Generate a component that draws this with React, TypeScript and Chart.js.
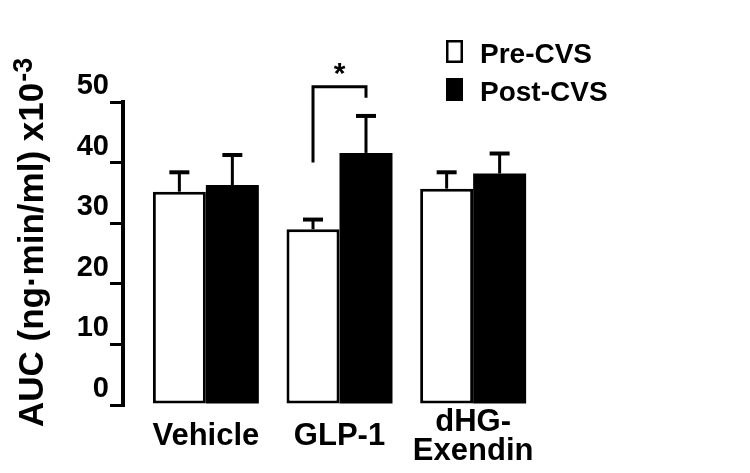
import React, { useEffect, useRef } from 'react';
import { Chart, registerables } from 'chart.js';

Chart.register(...registerables);

// ---- data ----
const groups = ['Vehicle', 'GLP-1', 'dHG-Exendin'];
const groupTickLabels: (string | string[])[] = ['Vehicle', 'GLP-1', ['dHG-', 'Exendin']];
const seriesNames = ['Pre-CVS', 'Post-CVS'];
const preValues = [35.2, 29.0, 35.7];
const postValues = [36.3, 41.6, 38.2];
const preErrors = [3.2, 1.6, 2.7];
const postErrors = [4.95, 6.1, 3.3];
const yMin = 0;
const yMax = 50;
const yStep = 10;
const yTitleMain = 'AUC (ng\u00b7min/ml) x10';
const yTitleSup = '-3';
const sigGroup = 1;
const sigLabel = '*';
const sigTop = 52.5;
const sigLeftEnd = 40;
const sigRightEnd = 50.7;

const FONT = '"Liberation Sans", Arial, Helvetica, sans-serif';

const errorBarPlugin = {
  id: 'errorBars',
  afterDatasetsDraw(chart: any) {
    const ctx = chart.ctx;
    const y = chart.scales.y;
    const vals = [preValues, postValues];
    const errs = [preErrors, postErrors];
    ctx.save();
    ctx.strokeStyle = '#000';
    ctx.lineCap = 'butt';
    chart.data.datasets.forEach((_: any, d: number) => {
      const meta = chart.getDatasetMeta(d);
      meta.data.forEach((bar: any, i: number) => {
        const top = y.getPixelForValue(vals[d][i] + errs[d][i]);
        ctx.lineWidth = 3;
        ctx.beginPath();
        ctx.moveTo(bar.x, bar.y);
        ctx.lineTo(bar.x, top);
        ctx.stroke();
        ctx.lineWidth = 4;
        ctx.beginPath();
        ctx.moveTo(bar.x - 10, top);
        ctx.lineTo(bar.x + 10, top);
        ctx.stroke();
      });
    });
    // significance bracket
    const a = chart.getDatasetMeta(0).data[sigGroup];
    const b = chart.getDatasetMeta(1).data[sigGroup];
    const yt = y.getPixelForValue(sigTop);
    ctx.lineWidth = 3;
    ctx.beginPath();
    ctx.moveTo(a.x, y.getPixelForValue(sigLeftEnd));
    ctx.lineTo(a.x, yt);
    ctx.lineTo(b.x, yt);
    ctx.lineTo(b.x, y.getPixelForValue(sigRightEnd));
    ctx.stroke();
    ctx.fillStyle = '#000';
    ctx.font = `bold 30px ${FONT}`;
    ctx.textAlign = 'center';
    ctx.textBaseline = 'alphabetic';
    ctx.fillText(sigLabel, (a.x + b.x) / 2, yt - 4);
    ctx.restore();
  },
  afterDraw(chart: any) {
    const ctx = chart.ctx;
    ctx.save();
    // y title
    ctx.translate(43, 427);
    ctx.rotate(-Math.PI / 2);
    ctx.fillStyle = '#000';
    ctx.font = `bold 35px ${FONT}`;
    ctx.textAlign = 'left';
    ctx.textBaseline = 'alphabetic';
    ctx.fillText(yTitleMain, 0, 0);
    const w = ctx.measureText(yTitleMain).width;
    ctx.font = `bold 27px ${FONT}`;
    ctx.fillText(yTitleSup, w + 1, -11);
    ctx.restore();

    // legend
    ctx.save();
    const items = chart.data.datasets;
    items.forEach((ds: any, i: number) => {
      const bx = 446;
      const by = 40 + i * 38;
      ctx.fillStyle = ds.backgroundColor;
      ctx.fillRect(bx, by, 17, 23);
      ctx.strokeStyle = '#000';
      ctx.lineWidth = 2.5;
      ctx.strokeRect(bx + 1.25, by + 1.25, 14.5, 20.5);
      ctx.fillStyle = '#000';
      ctx.font = `bold 28px ${FONT}`;
      ctx.textAlign = 'left';
      ctx.textBaseline = 'alphabetic';
      ctx.fillText(ds.label, 480, by + 23);
    });
    ctx.restore();
  },
};

export default function App() {
  const ref = useRef<HTMLCanvasElement | null>(null);
  useEffect(() => {
    if (!ref.current) return;
    const chart = new Chart(ref.current, {
      type: 'bar',
      data: {
        datasets: [
          {
            label: seriesNames[0],
            data: preValues.map((v, i) => ({ x: i + 1, y: v })),
            backgroundColor: '#ffffff',
            borderColor: '#000000',
            borderWidth: 3,
            borderSkipped: false,
          },
          {
            label: seriesNames[1],
            data: postValues.map((v, i) => ({ x: i + 1, y: v })),
            backgroundColor: '#000000',
            borderColor: '#000000',
            borderWidth: 0,
          },
        ],
      },
      options: {
        responsive: false,
        animation: false,
        devicePixelRatio: 1,
        layout: { padding: { top: 102, right: 194, left: 0, bottom: 0 } },
        datasets: { bar: { categoryPercentage: 0.793, barPercentage: 1 } },
        plugins: { legend: { display: false }, tooltip: { enabled: false }, title: { display: false } },
        scales: {
          x: {
            type: 'linear',
            offset: false,
            min: 0.38,
            max: 3.62,
            grid: { display: false, offset: false },
            border: { display: false },
            afterBuildTicks: (scale: any) => {
              scale.ticks = groups.map((_, i) => ({ value: i + 1 }));
            },
            afterFit: (scale: any) => {
              scale.height = 68;
            },
            ticks: {
              autoSkip: false,
              maxRotation: 0,
              minRotation: 0,
              padding: 9,
              crossAlign: 'center',
              color: '#000',
              font: { family: FONT, size: 31, weight: 'bold', lineHeight: 0.94 },
              callback: (v: any) => groupTickLabels[Math.round(v) - 1] ?? '',
            },
          },
          y: {
            min: yMin,
            max: yMax,
            afterFit: (scale: any) => {
              scale.width = 123;
            },
            grid: {
              drawOnChartArea: false,
              drawTicks: true,
              tickLength: 13,
              lineWidth: 3,
              color: '#000',
            },
            border: { display: true, color: '#000', width: 4 },
            ticks: {
              stepSize: yStep,
              padding: 1,
              labelOffset: -16,
              color: '#000',
              font: { family: FONT, size: 29, weight: 'bold' },
            },
          },
        },
      },
      plugins: [errorBarPlugin],
    } as any);
    return () => chart.destroy();
  }, []);
  return (
    <div style={{ position: 'absolute', left: 0, top: 0, width: 750, height: 473, background: '#fff' }}>
      <canvas ref={ref} width={750} height={473} style={{ display: 'block' }} />
    </div>
  );
}
